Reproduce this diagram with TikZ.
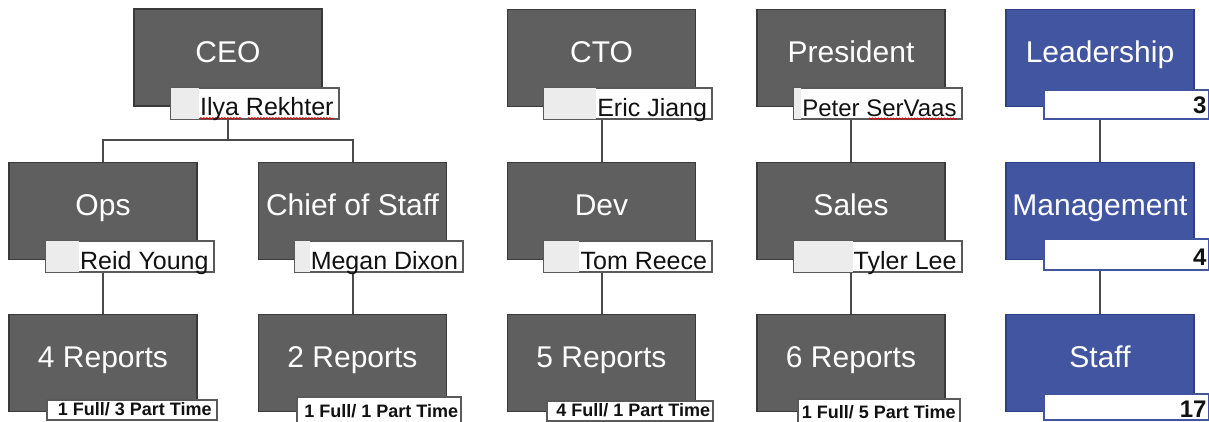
\documentclass[tikz,border=0pt]{standalone}
\usepackage{fontspec}
\setmainfont{Liberation Sans}
\usetikzlibrary{calc,decorations.pathmorphing}
\definecolor{boxgray}{HTML}{5F5F5F}
\definecolor{boxedge}{HTML}{3A3A3A}
\definecolor{lbledge}{HTML}{5A5A5A}
\definecolor{lblgray}{HTML}{ECECEC}
\definecolor{boxblue}{HTML}{4155A1}
\definecolor{blueedge}{HTML}{2E3F85}
\definecolor{lineclr}{HTML}{4A4A4A}
\definecolor{txtdark}{HTML}{111111}
\pgfdeclarelayer{bg}
\pgfdeclarelayer{fg}
\pgfsetlayers{bg,main,fg}
\tikzset{
  orgbox/.style={rectangle, minimum width=188pt, minimum height=97pt, inner sep=1pt,
    text=white, font=\fontsize{30}{36}\selectfont, text height=23pt, text depth=14pt},
  graybox/.style={orgbox, fill=boxgray, draw=boxedge, line width=1.5pt},
  bluebox/.style={orgbox, fill=boxblue, draw=blueedge, line width=1.5pt},
  namebox/.style={rectangle, fill=white, draw=lbledge, line width=2pt,
    minimum width=168pt, minimum height=31pt, inner sep=0pt},
  smallbox/.style={namebox, minimum height=20pt},
  numbox/.style={namebox, draw=boxblue, minimum width=165pt},
  nametext/.style={inner sep=0pt, text=txtdark, font=\fontsize{25}{30}\selectfont},
  smalltext/.style={inner sep=0pt, text=txtdark, font=\fontsize{18}{22}\selectfont\bfseries},
  numtext/.style={inner sep=0pt, text=txtdark, font=\fontsize{24}{28}\selectfont\bfseries},
  conn/.style={draw=lineclr, line width=2pt},
  squig/.style={draw=red!85!black, line width=0.7pt, decorate,
    decoration={snake, segment length=3pt, amplitude=0.8pt}},
}
% #1 name, #2 x, #3 y, #4 title, #5 person
\newcommand{\grayunit}[5]{%
  \node[graybox] (#1) at (#2,#3) {#4};
  \node[namebox, anchor=north east] (#1L) at ($(#1.south east)+(17,-20)$) {};
  \begin{pgfonlayer}{fg}
    \node[nametext, anchor=base east] (#1N) at ($(#1L.south east)+(-6,-4)$) {#5};
  \end{pgfonlayer}
  \fill[lblgray] ($(#1L.north west)+(1,1)$) rectangle ($(#1L.south west -| #1N.west)+(-1,-1)$);
}
\begin{document}
\begin{tikzpicture}[x=1pt, y=-1pt]
\useasboundingbox (0,0) rectangle (1209,421);

% ---- top and middle rows (gray)
\grayunit{ceo}{228}{57.5}{CEO}{Ilya Rekhter}
\grayunit{cto}{601.5}{58}{CTO}{Eric Jiang}
\grayunit{pres}{851}{58}{President}{{\fontsize{24}{28}\selectfont Peter SerVaas}}
\grayunit{ops}{103}{211}{Ops}{Reid Young}
\grayunit{cos}{352.5}{211}{Chief of Staff}{Megan Dixon}
\grayunit{dev}{601.5}{211}{Dev}{Tom Reece}
\grayunit{sales}{851}{211}{Sales}{Tyler Lee}

% ---- bottom row (gray)
\node[graybox] (repA) at (103,363) {4 Reports};
\node[graybox] (repB) at (352.5,363) {2 Reports};
\node[graybox] (repC) at (601.5,363) {5 Reports};
\node[graybox] (repD) at (851,363) {6 Reports};
\node[smallbox, minimum width=170pt, anchor=north east] (repAL) at ($(repA.south east)+(20,-13.5)$) {};
\node[smallbox, minimum width=164pt, minimum height=30pt, anchor=north east] (repBL) at ($(repB.south east)+(15,-16.5)$) {};
\node[smallbox, minimum width=166pt, anchor=north east] (repCL) at ($(repC.south east)+(18,-12.5)$) {};
\node[smallbox, minimum width=162pt, minimum height=30pt, anchor=north east] (repDL) at ($(repD.south east)+(15,-14.5)$) {};
\node[smalltext, anchor=base east] (repAN) at ($(repAL.south east)+(-6,-5)$) {1 Full/ 3 Part Time};
\node[smalltext, anchor=base east] (repBN) at ($(repBL.north east)+(-4,21.5)$) {1 Full/ 1 Part Time};
\node[smalltext, anchor=base east] (repCN) at ($(repCL.south east)+(-4,-5)$) {4 Full/ 1 Part Time};
\node[smalltext, anchor=base east] (repDN) at ($(repDL.north east)+(-5,20.5)$) {1 Full/ 5 Part Time};

% ---- right column (blue)
\node[bluebox] (lead) at (1100,58) {Leadership};
\node[bluebox] (mgmt) at (1100,211) {Management};
\node[bluebox] (staff) at (1100,363) {Staff};
\node[numbox, minimum height=29pt, anchor=north east] (leadL) at ($(lead.south east)+(15,-18.5)$) {};
\node[numbox, minimum height=31pt, anchor=north east] (mgmtL) at ($(mgmt.south east)+(15,-22.5)$) {};
\node[numbox, minimum height=26pt, anchor=north east] (staffL) at ($(staff.south east)+(15,-19.5)$) {};
\node[numtext, anchor=base east] (leadN) at ($(leadL.south east)+(-3,-6)$) {3};
\node[numtext, anchor=base east] (mgmtN) at ($(mgmtL.south east)+(-3,-5)$) {4};
\node[numtext, anchor=base east] (staffN) at ($(staffL.south east)+(-3,-3)$) {17};

% ---- spelling squiggles
\draw[squig] ($(ceoN.base west)+(0,2.5)$) -- ++(42,0);
\draw[squig] ($(ceoN.base west)+(48,2.5)$) -- ($(ceoN.base east)+(0,2.5)$);
\draw[squig] ($(presN.base east)+(-88,2.5)$) -- ($(presN.base east)+(0,2.5)$);

% ---- connectors
\begin{pgfonlayer}{bg}
  \coordinate (split) at (228,140);
  \draw[conn] (ceo.south) -- (split);
  \draw[conn] (split) -| (ops.north);
  \draw[conn] (split) -| (cos.north);
  \draw[conn] (ops.south) -- (repA.north);
  \draw[conn] (cos.south) -- (repB.north);
  \draw[conn] (cto.south) -- (dev.north);
  \draw[conn] (dev.south) -- (repC.north);
  \draw[conn] (pres.south) -- (sales.north);
  \draw[conn] (sales.south) -- (repD.north);
  \draw[conn] (lead.south) -- (mgmt.north);
  \draw[conn] (mgmt.south) -- (staff.north);
\end{pgfonlayer}
\end{tikzpicture}
\end{document}
